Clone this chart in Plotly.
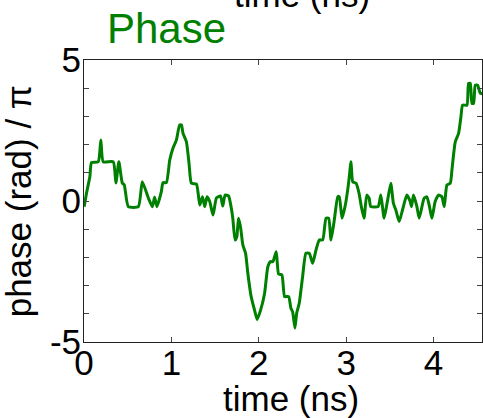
import plotly.graph_objects as go

# time (ns) and phase (rad / pi)
time_ns = [0.002, 0.029, 0.067, 0.086, 0.163, 0.193, 0.220, 0.335, 0.365, 0.399,
           0.438, 0.461, 0.507, 0.622, 0.667, 0.736, 0.782, 0.808, 0.835, 0.885,
           0.904, 0.943, 0.981, 1.018, 1.057, 1.095, 1.115, 1.133, 1.172, 1.202,
           1.229, 1.287, 1.325, 1.356, 1.382, 1.408, 1.439, 1.477, 1.516, 1.562,
           1.588, 1.615, 1.654, 1.683, 1.703, 1.729, 1.749, 1.768, 1.791, 1.818,
           1.849, 1.875, 1.913, 1.952, 1.982, 2.021, 2.067, 2.104, 2.135, 2.162,
           2.200, 2.227, 2.265, 2.296, 2.342, 2.368, 2.388, 2.414, 2.434, 2.463,
           2.502, 2.540, 2.578, 2.617, 2.655, 2.693, 2.732, 2.770, 2.800, 2.827,
           2.865, 2.904, 2.922, 2.953, 2.991, 3.030, 3.056, 3.076, 3.114, 3.148,
           3.174, 3.205, 3.236, 3.263, 3.282, 3.366, 3.397, 3.435, 3.472, 3.511,
           3.541, 3.569, 3.607, 3.645, 3.695, 3.733, 3.748, 3.771, 3.810, 3.836,
           3.893, 3.924, 3.954, 3.982, 4.019, 4.057, 4.096, 4.123, 4.154, 4.192,
           4.211, 4.229, 4.249, 4.287, 4.314, 4.333, 4.383, 4.401, 4.421, 4.440,
           4.459, 4.478, 4.505, 4.536, 4.570]
phase = [-0.20, 0.28, 0.86, 1.36, 1.39, 2.16, 1.39, 1.39, 0.64, 1.39,
         0.64, 0.57, -0.20, -0.20, 0.68, 0.11, -0.20, 0.13, -0.20, 0.33,
         0.65, 0.65, 1.45, 1.87, 2.16, 2.70, 2.70, 2.40, 2.10, 1.34,
         0.63, 0.60, -0.14, 0.15, -0.20, 0.15, -0.02, -0.50, 0.11, 0.18,
         -0.18, 0.21, 0.18, -0.20, -0.61, -1.38, -1.27, -0.61, -0.91, -1.56,
         -1.85, -2.56, -3.39, -3.87, -4.20, -3.87, -3.27, -2.33, -2.15, -2.15,
         -1.80, -2.59, -2.62, -3.39, -3.39, -3.80, -3.93, -4.51, -3.98, -3.63,
         -2.68, -1.85, -1.85, -2.21, -1.74, -1.38, -1.38, -0.61, -0.61, -1.38,
         -0.67, 0.15, 0.15, -0.61, -0.14, 0.68, 1.39, 0.68, 0.63, 0.27,
         -0.20, -0.61, 0.21, 0.10, -0.20, -0.20, 0.21, -0.61, -0.02, 0.63,
         -0.08, -0.32, -0.73, -0.32, 0.21, -0.02, -0.20, 0.21, -0.20, -0.61,
         0.10, 0.15, -0.20, -0.61, -0.02, 0.21, 0.15, -0.20, 0.57, 0.63,
         1.10, 1.63, 2.10, 2.40, 2.99, 3.40, 3.40, 4.17, 4.17, 3.46,
         3.46, 4.11, 4.11, 3.82, 3.82]

x_ticks = [0, 1, 2, 3, 4]
y_ticks = [-5, -4, -3, -2, -1, 0, 1, 2, 3, 4, 5]
y_labels = ["-5", "", "", "", "", "0", "", "", "", "", "5"]

GREEN = "#008000"
FONT = "Liberation Sans, Arial, sans-serif"

fig = go.Figure()
fig.add_trace(go.Scatter(x=time_ns, y=phase, mode="lines",
                         line=dict(color=GREEN, width=3, shape="spline", smoothing=0.5),
                         showlegend=False, hoverinfo="skip"))

axis_common = dict(showgrid=False, zeroline=False, showline=True, linecolor="#222",
                   linewidth=1, mirror="ticks", ticks="inside", ticklen=5,
                   tickcolor="#444", tickwidth=1,
                   tickfont=dict(family=FONT, size=35, color="black"))

fig.update_xaxes(range=[0, 4.555], tickvals=x_ticks, ticklabelstandoff=-10, **axis_common)
fig.update_yaxes(range=[-5, 5], tickvals=y_ticks, ticktext=y_labels,
                 ticklabelstandoff=-5, **axis_common)

fig.update_layout(
    width=483, height=418,
    margin=dict(l=84, r=1, t=60, b=76, autoexpand=False),
    paper_bgcolor="white", plot_bgcolor="white",
    annotations=[
        dict(text="Phase", x=0.053, y=1.113, xref="paper", yref="paper",
             xanchor="left", yanchor="middle", showarrow=False,
             font=dict(family=FONT, size=42, color=GREEN)),
        dict(text="time (ns)", x=0.519, y=-0.202, xref="paper", yref="paper",
             xanchor="center", yanchor="middle", showarrow=False,
             font=dict(family=FONT, size=35, color="black")),
        dict(text="time (ns)", x=0.547, y=1.231, xref="paper", yref="paper",
             xanchor="center", yanchor="middle", showarrow=False,
             font=dict(family=FONT, size=35, color="black")),
        dict(text="phase (rad) / π", x=-0.165, y=0.5, xref="paper", yref="paper",
             xanchor="center", yanchor="middle", textangle=-90, showarrow=False,
             font=dict(family=FONT, size=35, color="black")),
    ],
)

fig.write_html("out.html",
               config={"displayModeBar": False},
               post_script="document.body.style.margin='0';document.body.style.overflow='hidden';")
